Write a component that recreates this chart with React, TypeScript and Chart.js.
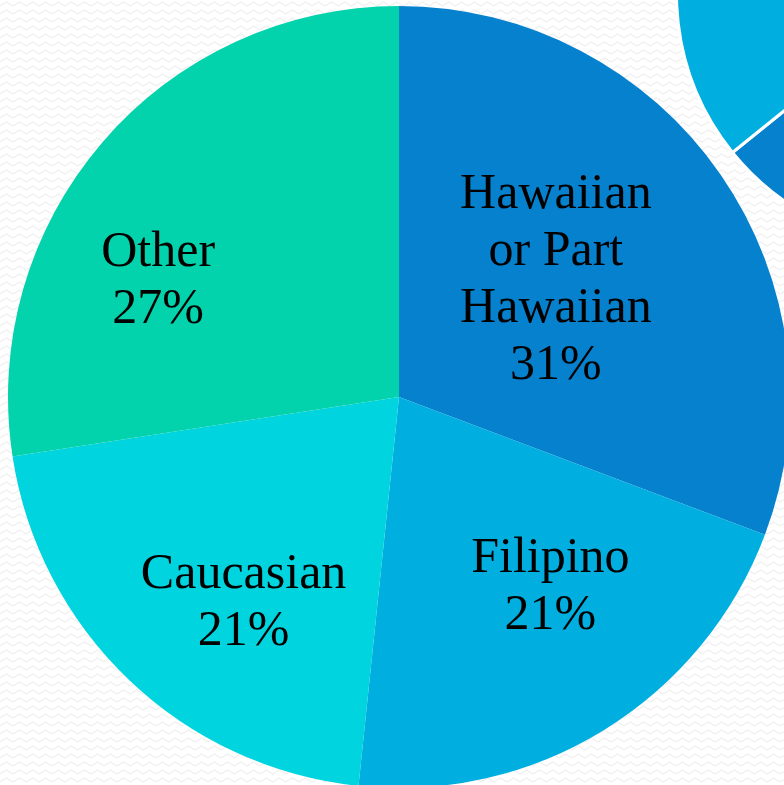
import React, { useEffect, useRef } from 'react';
import { Chart, registerables } from 'chart.js';

Chart.register(...registerables);

// ---- data ----
const categories = ['Hawaiian or Part Hawaiian', 'Filipino', 'Caucasian', 'Other'];
const labelLines = [['Hawaiian', 'or Part', 'Hawaiian'], ['Filipino'], ['Caucasian'], ['Other']];
const shares = [30.7, 20.9, 20.9, 27.4];
const percentLabels = ['31%', '21%', '21%', '27%'];
const sliceColors = ['#0681CE', '#00AEDF', '#00D4DF', '#02D3AC'];

// decorative partial pie in the top-right corner
const decorShares = [64.2, 35.8];
const decorColors = ['#0681CE', '#00AEDF'];

const bgPattern =
  "url(\"data:image/svg+xml,%3Csvg xmlns='http://www.w3.org/2000/svg' width='13' height='8'%3E%3Cpath d='M0 6 L6.5 2 L13 6' fill='none' stroke='%23efefef' stroke-width='1.4'/%3E%3C/svg%3E\")";

const sliceLabels = {
  id: 'sliceLabels',
  afterDatasetsDraw(chart: any, _args: any, opts: any) {
    const meta = chart.getDatasetMeta(0);
    const ctx = chart.ctx;
    ctx.save();
    ctx.font = opts.font;
    ctx.fillStyle = opts.color;
    ctx.textAlign = 'center';
    ctx.textBaseline = 'alphabetic';
    meta.data.forEach((arc: any, i: number) => {
      const { x, y, startAngle, endAngle, outerRadius } = arc.getProps(
        ['x', 'y', 'startAngle', 'endAngle', 'outerRadius'],
        true
      );
      const [af, rf] = opts.placement[i];
      const a = startAngle + (endAngle - startAngle) * af;
      const r = outerRadius * rf;
      const cx = x + Math.cos(a) * r;
      const cy = y + Math.sin(a) * r;
      const lines = [...labelLines[i], percentLabels[i]];
      const lh = opts.lineHeight;
      lines.forEach((t: string, k: number) => {
        ctx.fillText(t, cx, cy - ((lines.length - 1) / 2) * lh + k * lh + opts.baselineShift);
      });
    });
    ctx.restore();
  },
};

export default function App() {
  const mainRef = useRef<HTMLCanvasElement>(null);
  const decorRef = useRef<HTMLCanvasElement>(null);

  useEffect(() => {
    document.body.style.margin = '0';
    const main = new Chart(mainRef.current as HTMLCanvasElement, {
      type: 'pie',
      data: {
        labels: categories,
        datasets: [
          {
            data: shares,
            backgroundColor: sliceColors,
            borderWidth: 0,
            hoverOffset: 0,
            offset: 0,
          },
        ],
      },
      options: {
        responsive: false,
        animation: false,
        events: [],
        layout: { padding: { left: 8, top: 6, right: 10, bottom: 12 } },
        plugins: {
          legend: { display: false },
          tooltip: { enabled: false },
          sliceLabels: {
            font: '50px "Liberation Serif", serif',
            color: '#000000',
            lineHeight: 57,
            baselineShift: 16,
            placement: [
              [0.477, 0.504],
              [0.405, 0.617],
              [0.418, 0.654],
              [0.353, 0.686],
            ],
          },
        } as any,
      },
      plugins: [sliceLabels],
    });

    const decor = new Chart(decorRef.current as HTMLCanvasElement, {
      type: 'pie',
      data: {
        labels: ['a', 'b'],
        datasets: [
          {
            data: decorShares,
            backgroundColor: decorColors,
            borderColor: '#ffffff',
            borderWidth: 3,
            hoverOffset: 0,
            offset: 0,
          },
        ],
      },
      options: {
        responsive: false,
        animation: false,
        events: [],
        layout: { padding: 10 },
        plugins: { legend: { display: false }, tooltip: { enabled: false } },
      },
    });

    return () => {
      main.destroy();
      decor.destroy();
    };
  }, []);

  return (
    <div
      style={{
        position: 'fixed',
        left: 0,
        top: 0,
        width: 784,
        height: 785,
        overflow: 'hidden',
        backgroundColor: '#ffffff',
        backgroundImage: bgPattern,
      }}
    >
      <div style={{ position: 'absolute', left: 0, top: 0, width: 800, height: 800 }}>
        <canvas ref={mainRef} width={800} height={800} style={{ display: 'block' }} />
      </div>
      <div style={{ position: 'absolute', left: 665, top: -270, width: 528, height: 528 }}>
        <canvas ref={decorRef} width={528} height={528} style={{ display: 'block' }} />
      </div>
    </div>
  );
}
